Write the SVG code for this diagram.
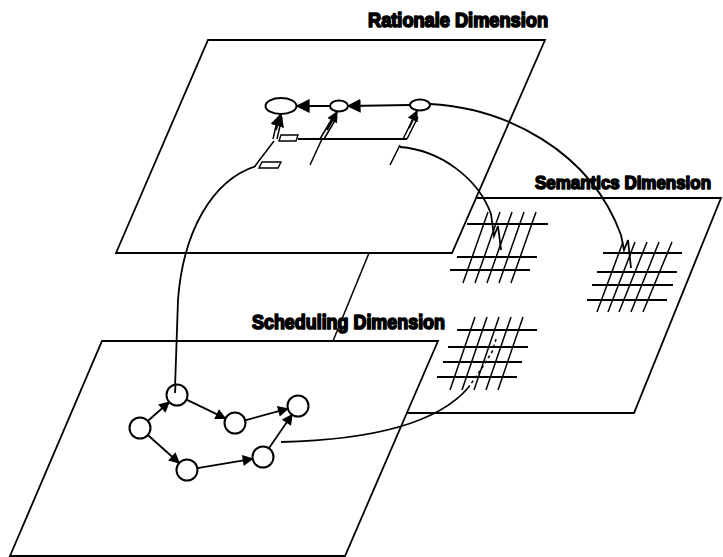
<svg xmlns="http://www.w3.org/2000/svg" width="723" height="557" viewBox="0 0 723 557">
  <style>
    .plane { fill: none; stroke: #000; stroke-width: 1.8; stroke-linejoin: miter; }
    .edge { fill: none; stroke: #000; stroke-width: 1.8; }
    .thin { fill: none; stroke: #000; stroke-width: 1.5; }
    .grid { fill: none; stroke: #000; stroke-width: 2.2; }
    .node { fill: #fff; stroke: #000; stroke-width: 2; }
    .box { fill: #fff; stroke: #000; stroke-width: 1.4; }
    .label { font-family: "Liberation Sans", Arial, sans-serif; font-weight: 900; font-size: 20px; fill: #000; stroke: #000; stroke-width: 1.7; stroke-linejoin: round; }
    .label-sm { font-size: 18px; stroke-width: 1.6; }
  </style>
  <defs>
    <marker id="arrow" viewBox="0 0 10 10" refX="9" refY="5" markerWidth="12" markerHeight="11" markerUnits="userSpaceOnUse" orient="auto">
      <path d="M0,0 L10,5 L0,10 Z" fill="#000"/>
    </marker>
    <marker id="arrow-lg" viewBox="0 0 10 10" refX="9" refY="5" markerWidth="14" markerHeight="14" markerUnits="userSpaceOnUse" orient="auto">
      <path d="M0,0 L10,5 L0,10 Z" fill="#000"/>
    </marker>
  </defs>

  <rect width="723" height="557" fill="#fff"/>

  <!-- Semantics plane (visible edges only; partly hidden by the other planes) -->
  <g id="semantics-plane">
    <path class="plane" d="M477,198 H721 L634,413 H406"/>
    <text class="label label-sm" x="535" y="189" textLength="176" lengthAdjust="spacingAndGlyphs">Semantics Dimension</text>
    <!-- grid A -->
    <g id="grid-a">
      <path class="grid" d="M467,224 H548 M457,257 H537 M450,270 H530"/>
      <path class="thin" d="M488,212 L463,283 M500,212 L475,283 M512,212 L487,283 M524,212 L499,283 M536,212 L511,283"/>
    </g>
    <!-- grid B -->
    <g id="grid-b">
      <path class="grid" d="M603,253 H682 M597,272 H677 M592,285 H673 M587,300 H667"/>
      <path class="thin" d="M623,242 L597,312 M635,242 L608,312 M647,242 L619,312 M659,242 L631,312 M672,242 L643,312"/>
    </g>
    <!-- grid C -->
    <g id="grid-c">
      <path class="grid" d="M457,330 H537 M448,347 H528 M443,362 H522 M437,377 H517"/>
      <path class="thin" d="M475,317 L450,390 M487,317 L462,390 M499,317 L474,390 M511,317 L486,390 M523,317 L498,390"/>
    </g>
  </g>

  <!-- Rationale plane -->
  <g id="rationale-plane">
    <polygon class="plane" points="208,40 545,40 452,253 116,253"/>
    <text class="label" x="368" y="27" textLength="180" lengthAdjust="spacingAndGlyphs">Rationale Dimension</text>
  </g>
  <g id="r-goal">
    <ellipse class="node" cx="281" cy="106" rx="15.5" ry="8"/>
  </g>
  <g id="r-mid">
    <ellipse class="node" cx="339" cy="106" rx="9" ry="5.5"/>
  </g>
  <g id="r-source">
    <ellipse class="node" cx="420" cy="105" rx="10" ry="5.5"/>
  </g>
  <g id="r-box-upper">
    <polygon class="box" points="281,135 298,135 296,141 279,141"/>
  </g>
  <g id="r-box-lower">
    <polygon class="box" points="262,162 281,162 278,168 259,168"/>
  </g>

  <!-- Scheduling plane -->
  <g id="scheduling-plane">
    <polygon class="plane" points="102,341 438,341 345,556 10,556"/>
    <text class="label" x="252" y="329" textLength="193" lengthAdjust="spacingAndGlyphs">Scheduling Dimension</text>
  </g>

  <!-- Connectors -->
  <g id="connectors">
    <!-- rationale: left-pointing chain -->
    <line class="edge" x1="410" y1="105" x2="348" y2="106" marker-end="url(#arrow-lg)"/>
    <line class="edge" x1="330" y1="106" x2="297" y2="106" marker-end="url(#arrow-lg)"/>
    <!-- rationale: upward double-shaft links -->
    <path class="thin" d="M273,139 L278,117 M277,139 L282,117"/>
    <line class="edge" x1="276" y1="130" x2="281" y2="114" marker-end="url(#arrow-lg)"/>
    <path class="thin" d="M320,139 L333,117 M324,139 L337,117"/>
    <line class="edge" x1="327" y1="130" x2="337" y2="112" marker-end="url(#arrow)"/>
    <path class="thin" d="M403,139 L414,117 M407,139 L418,117"/>
    <line class="edge" x1="409" y1="128" x2="417" y2="111" marker-end="url(#arrow)"/>
    <line class="edge" x1="298" y1="139" x2="407" y2="139"/>
    <!-- rationale: drop lines -->
    <line class="thin" x1="274" y1="141" x2="255" y2="166"/>
    <line class="thin" x1="322" y1="139" x2="310" y2="165"/>
    <line class="thin" x1="400" y1="145" x2="390" y2="165"/>
    <!-- link between rationale and scheduling planes -->
    <line class="thin" x1="369" y1="253" x2="333" y2="341"/>

    <!-- cross-dimension curves -->
    <path class="edge" d="M430,104 C505,108 590,150 621,235 L624,250 L628,240 L631,268"/>
    <path class="edge" d="M400,147 C440,150 478,178 491,214 L494,236 L498,226 L501,250"/>
    <path class="edge" d="M256,166 C212,180 183,232 178,300 L175,388"/>
    <path class="edge" d="M281,442 C365,440 435,426 468,388"/>
    <path class="thin" stroke-dasharray="3 3" d="M468,388 L482,368 L492,352 L497,336"/>

    <!-- scheduling graph edges -->
    <line class="edge" x1="147.8" y1="421" x2="169.2" y2="402" marker-end="url(#arrow)"/>
    <line class="edge" x1="186.5" y1="399.6" x2="225.5" y2="418.4" marker-end="url(#arrow)"/>
    <line class="edge" x1="245.1" y1="420.3" x2="287.9" y2="408.7" marker-end="url(#arrow)"/>
    <line class="edge" x1="147.8" y1="435" x2="179.2" y2="463" marker-end="url(#arrow)"/>
    <line class="edge" x1="197.4" y1="468.2" x2="252.6" y2="458.8" marker-end="url(#arrow)"/>
    <line class="edge" x1="268.9" y1="448.3" x2="292.1" y2="414.6" marker-end="url(#arrow)"/>
  </g>

  <!-- Scheduling nodes -->
  <g id="s1"><circle class="node" cx="140" cy="428" r="10.5"/></g>
  <g id="s2"><circle class="node" cx="177" cy="395" r="10.5"/><line class="edge" x1="175.5" y1="384" x2="175" y2="393"/></g>
  <g id="s3"><circle class="node" cx="235" cy="423" r="10.5"/></g>
  <g id="s4"><circle class="node" cx="298" cy="406" r="10.5"/></g>
  <g id="s5"><circle class="node" cx="187" cy="470" r="10.5"/></g>
  <g id="s6"><circle class="node" cx="263" cy="457" r="10.5"/></g>
</svg>
